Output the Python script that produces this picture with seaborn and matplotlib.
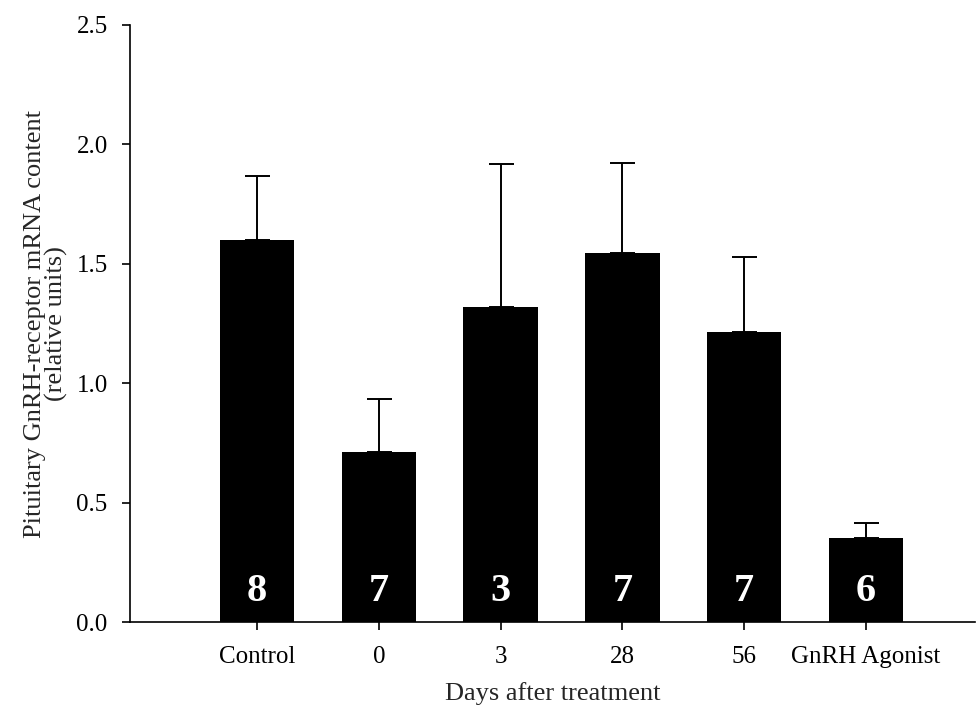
import matplotlib
matplotlib.use("Agg")
import matplotlib.pyplot as plt
import seaborn as sns
import numpy as np
import pandas as pd

categories = ["Control", "0", "3", "28", "56", "GnRH Agonist"]
means = [1.60, 0.714, 1.32, 1.545, 1.215, 0.351]
sem = [0.267, 0.219, 0.596, 0.376, 0.312, 0.066]
n_counts = [8, 7, 3, 7, 7, 6]
yticks = [0.0, 0.5, 1.0, 1.5, 2.0, 2.5]

sns.set_style("ticks")
plt.rcParams["font.family"] = ["Liberation Serif", "DejaVu Serif"]

fig = plt.figure(figsize=(9.77, 7.11), dpi=100)
ax = fig.add_axes([0.133, 0.125, 0.865, 0.840])

df = pd.DataFrame({"group": categories, "value": means})
sns.barplot(data=df, x="group", y="value", order=categories, color="black",
            width=0.61, errorbar=None, ax=ax, saturation=1, edgecolor="black", linewidth=0)

xpos = np.arange(len(categories))
ax.errorbar(xpos, means, yerr=[np.zeros(len(sem)), sem], fmt="none",
            ecolor="black", elinewidth=1.4, capsize=9, capthick=1.4, zorder=3)

for i, n in enumerate(n_counts):
    ax.text(i, 0.13, str(n), ha="center", va="center", color="white",
            fontsize=29, fontweight="bold", zorder=4)

ax.set_ylim(0, 2.5)
ax.set_xlim(-1.043, 5.895)
ax.set_yticks(yticks)
ax.set_yticklabels([f"{v:.1f}" for v in yticks])
ax.tick_params(axis="both", direction="out", length=6, width=1.2, labelsize=18, colors="black")
ax.tick_params(axis="y", pad=10)
ax.tick_params(axis="x", pad=11)
ax.set_xlabel("Days after treatment", fontsize=19, labelpad=10)
ax.set_ylabel("Pituitary GnRH-receptor mRNA content\n(relative units)", fontsize=19, labelpad=6, linespacing=0.95)
sns.despine(ax=ax)
for s in ["left", "bottom"]:
    ax.spines[s].set_linewidth(1.2)
    ax.spines[s].set_color("black")

fig.savefig("out.png", dpi=100)
